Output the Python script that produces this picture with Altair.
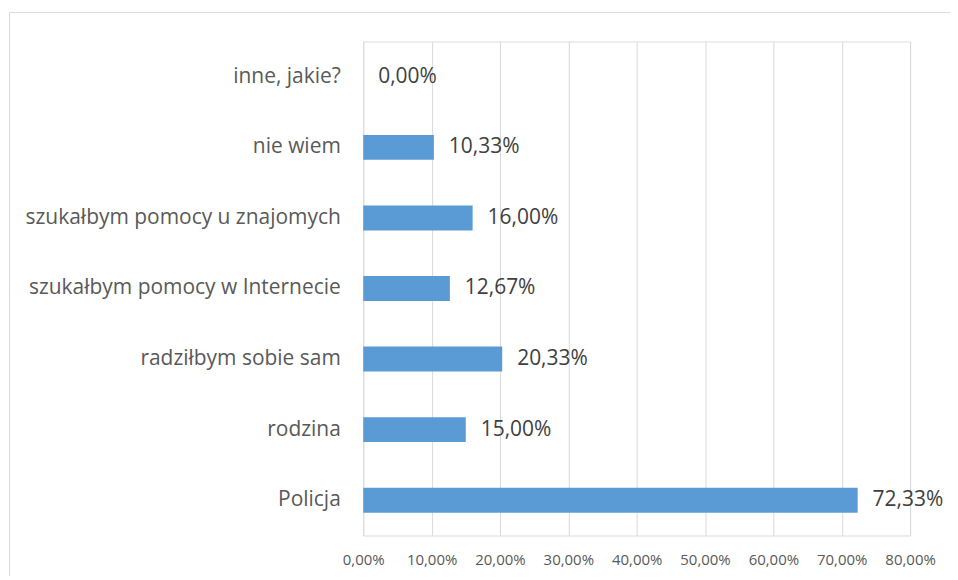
import altair as alt
import pandas as pd

categories = ["inne, jakie?", "nie wiem", "szukałbym pomocy u znajomych",
              "szukałbym pomocy w Internecie", "radziłbym sobie sam", "rodzina", "Policja"]
values = [0.00, 10.33, 16.00, 12.67, 20.33, 15.00, 72.33]
ticks = [0, 10, 20, 30, 40, 50, 60, 70, 80]

df = pd.DataFrame({
    "cat": categories,
    "val": values,
    "lbl": [f"{v:.2f}".replace(".", ",") + "%" for v in values],
})

FONT = "Open Sans"

x = alt.X("val:Q",
          scale=alt.Scale(domain=[0, 80], nice=False, zero=True),
          axis=alt.Axis(values=ticks, title=None, domain=False, ticks=False,
                        grid=True, gridColor="#d9d9d9", gridWidth=1,
                        labelExpr="replace(format(datum.value, '.2f'), '.', ',') + '%'",
                        labelFont=FONT, labelFontSize=15, labelColor="#595959",
                        labelPadding=17, labelOverlap=False, labelFlush=False))
y = alt.Y("cat:N", sort=categories,
          scale=alt.Scale(paddingInner=0.647, paddingOuter=0.3235),
          axis=alt.Axis(title=None, domain=False, ticks=False, grid=False,
                        labelFont=FONT, labelFontSize=21, labelColor="#595959",
                        labelPadding=23, labelLimit=400))

bars = alt.Chart(df).mark_bar(color="#5B9BD5").encode(x=x, y=y)
text = alt.Chart(df).mark_text(align="left", baseline="middle", dx=15,
                               font=FONT, fontSize=21, color="#404040").encode(
    x="val:Q", y=alt.Y("cat:N", sort=categories), text="lbl:N")

frame = alt.Chart(pd.DataFrame({"a": [0]})).mark_rect(
    fill=None, stroke="#d9d9d9", strokeWidth=1).encode(
    x=alt.value(-354.5), x2=alt.value(700), y=alt.value(-29), y2=alt.value(700))

chart = alt.layer(frame, bars, text).properties(
    width=548, height=495,
    autosize=alt.AutoSizeParams(type="none"),
    padding={"left": 356, "top": 33, "right": 40, "bottom": 40},
).configure_view(stroke=None).configure(background="white")

chart.save("out.html", embed_options={"renderer": "svg", "actions": False})
